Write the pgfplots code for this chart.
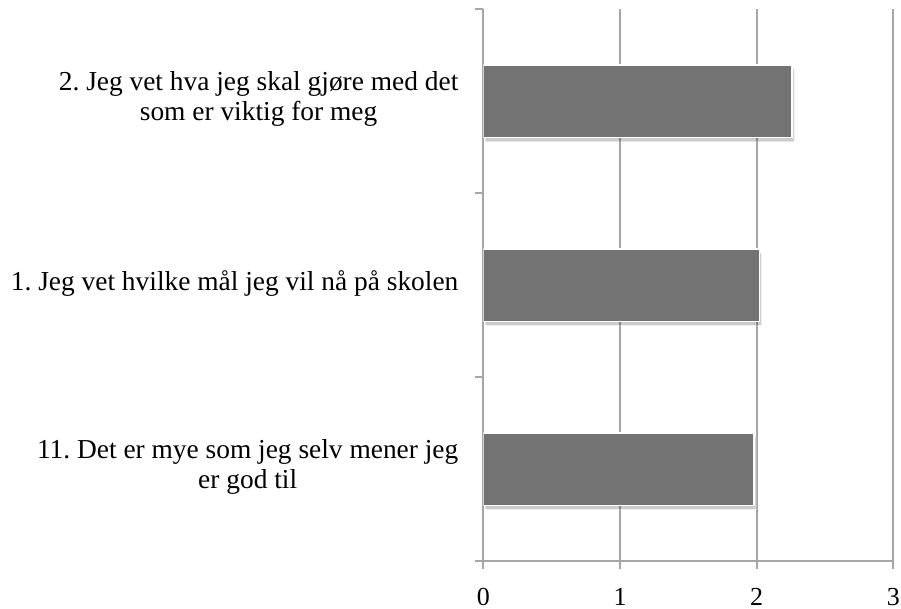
\documentclass[border=0pt]{standalone}
\usepackage{fontspec}
\setmainfont{Liberation Serif}
\usepackage{pgfplots}
\pgfplotsset{compat=1.18}
\usetikzlibrary{shadows}
\definecolor{barfill}{HTML}{737373}
\definecolor{axgray}{HTML}{A6A6A6}
\begin{document}
\frenchspacing
\begin{tikzpicture}
\begin{axis}[
  scale only axis, width=205pt, height=275.85pt,
  xmin=0, xmax=3, ymin=-0.5, ymax=2.5,
  xbar, bar width=36.3pt,
  axis x line*=bottom, axis y line*=left,
  axis line style={axgray, line width=0.9pt},
  xtick={0,1,2,3},
  xmajorgrids, major grid style={axgray, line width=0.9pt},
  ytick={0,1,2},
  yticklabels={{11. Det er mye som jeg selv mener jeg\\er god til},{1. Jeg vet hvilke mål jeg vil nå på skolen},{2. Jeg vet hva jeg skal gjøre med det\\som er viktig for meg}},
  minor ytick={-0.5,0.5,1.5,2.5},
  tick align=outside,
  major tick length=4pt, minor tick length=4pt,
  tick style={axgray, line width=0.9pt},
  major y tick style={draw=none},
  /pgf/number format/assume math mode=true,
  xticklabel style={font=\fontsize{13}{15}\selectfont, yshift=-6pt},
  yticklabel style={font=\fontsize{13.7}{15}\selectfont, align=center, xshift=-5pt, yshift=1pt},
]
\addplot[fill=barfill, draw=white, line width=0.8pt,
  drop shadow={shadow xshift=1pt, shadow yshift=-2pt, opacity=0.2, fill=black}]
  coordinates {(1.98,0) (2.02,1) (2.26,2)};
\end{axis}
\pgfresetboundingbox
\useasboundingbox (-241.7pt,-24pt) rectangle (208.8pt,280.5pt);
\end{tikzpicture}
\end{document}
